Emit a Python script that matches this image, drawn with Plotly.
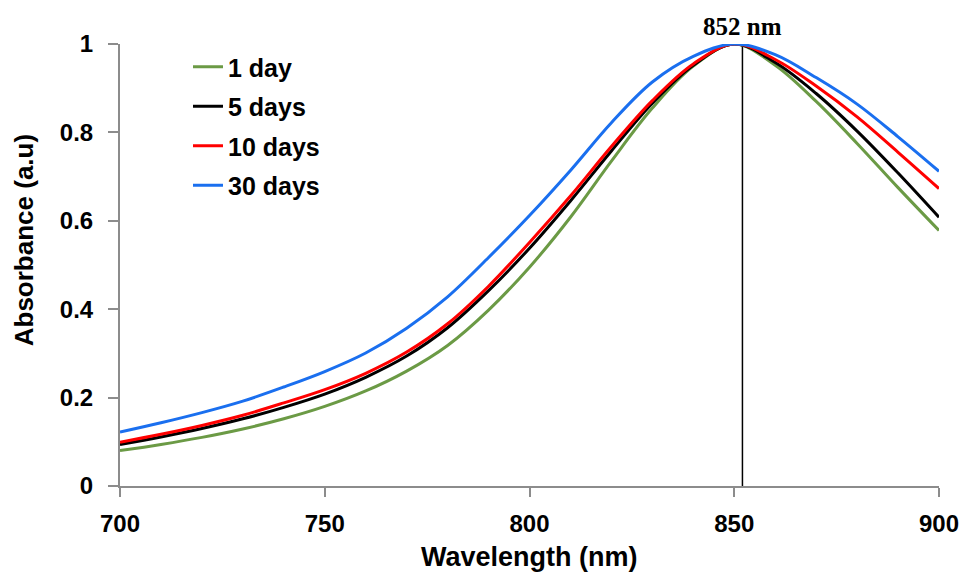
import plotly.graph_objects as go

# Wavelength grid (nm) and normalised absorbance for each ageing time
wavelength = [700, 710, 720, 730, 740, 750, 760, 770, 780, 790, 800,
              810, 820, 830, 840, 850, 860, 870, 880, 890, 900]

abs_1_day = [0.080, 0.094, 0.110, 0.129, 0.152, 0.180, 0.215, 0.260, 0.318, 0.398, 0.495,
             0.608, 0.735, 0.855, 0.950, 1.000, 0.952, 0.870, 0.775, 0.675, 0.578]
abs_5_days = [0.094, 0.111, 0.130, 0.152, 0.178, 0.208, 0.246, 0.294, 0.358, 0.442, 0.538,
              0.645, 0.758, 0.866, 0.952, 1.000, 0.958, 0.888, 0.803, 0.708, 0.608]
abs_10_days = [0.099, 0.117, 0.137, 0.160, 0.188, 0.218, 0.255, 0.303, 0.367, 0.452, 0.551,
               0.656, 0.768, 0.872, 0.955, 1.000, 0.965, 0.905, 0.835, 0.755, 0.673]
abs_30_days = [0.122, 0.143, 0.166, 0.192, 0.224, 0.259, 0.301, 0.357, 0.428, 0.517, 0.612,
               0.714, 0.822, 0.914, 0.972, 1.000, 0.976, 0.924, 0.864, 0.790, 0.712]

series_names = ["1 day", "5 days", "10 days", "30 days"]
series_values = [abs_1_day, abs_5_days, abs_10_days, abs_30_days]
series_colors = ["#6b9a45", "#000000", "#ff0000", "#1a6fef"]

PEAK_NM = 852
peak_label = "852 nm"

fig = go.Figure()

for i, (name, vals, col) in enumerate(zip(series_names, series_values, series_colors)):
    fig.add_trace(go.Scatter(
        x=wavelength, y=vals, name=name, mode="lines",
        line=dict(color=col, width=3, shape="spline", smoothing=1.0),
        legendgroup=f"g{i}",
    ))

# Peak marker line
fig.add_shape(type="line", xref="x", yref="y",
              x0=PEAK_NM, x1=PEAK_NM, y0=0, y1=1,
              line=dict(color="#000000", width=1.5), layer="below")

fig.add_annotation(x=PEAK_NM, y=1, xref="x", yref="y", text=f"<b>{peak_label}</b>",
                   showarrow=False, yanchor="bottom", yshift=2,
                   font=dict(family="Liberation Serif, Times New Roman, serif", size=25, color="#000000"))

sans = "Liberation Sans, Arial, sans-serif"

# Axis titles
fig.add_annotation(x=0.5, y=0, xref="paper", yref="paper", yanchor="middle",
                   yshift=-71, text="<b>Wavelength (nm)</b>", showarrow=False,
                   font=dict(family=sans, size=27, color="#000000"))
fig.add_annotation(x=0, y=0.556, xref="paper", yref="paper", xanchor="center", yanchor="middle",
                   xshift=-96, text="<b>Absorbance (a.u)</b>", showarrow=False, textangle=-90,
                   font=dict(family=sans, size=26, color="#000000"))

fig.update_layout(
    width=967, height=572,
    margin=dict(l=120, r=28, t=44, b=86),
    paper_bgcolor="white", plot_bgcolor="white",
    font=dict(family=sans, color="#000000"),
    showlegend=True,
    legend=dict(
        x=0.083, y=1.0, xanchor="left", yanchor="top",
        bgcolor="rgba(0,0,0,0)", borderwidth=0,
        font=dict(family=sans, size=25, color="#000000", weight="bold"),
        tracegroupgap=4,
        itemwidth=30,
    ),
    xaxis=dict(
        range=[700, 900], tickmode="linear", tick0=700, dtick=50,
        showgrid=False, zeroline=False, automargin=False,
        showline=True, linecolor="#8c8c8c", linewidth=2,
        ticks="outside", ticklen=9, tickwidth=2, tickcolor="#8c8c8c",
        tickfont=dict(family=sans, size=24, color="#000000", weight="bold"),
        ticklabelstandoff=6,
    ),
    yaxis=dict(
        range=[0, 1], tickmode="linear", tick0=0, dtick=0.2,
        showgrid=False, zeroline=False, automargin=False,
        showline=True, linecolor="#8c8c8c", linewidth=2,
        ticks="outside", ticklen=10, tickwidth=2, tickcolor="#8c8c8c",
        tickfont=dict(family=sans, size=24, color="#000000", weight="bold"),
        ticklabelstandoff=10,
    ),
)

fig.write_html("out.html")
